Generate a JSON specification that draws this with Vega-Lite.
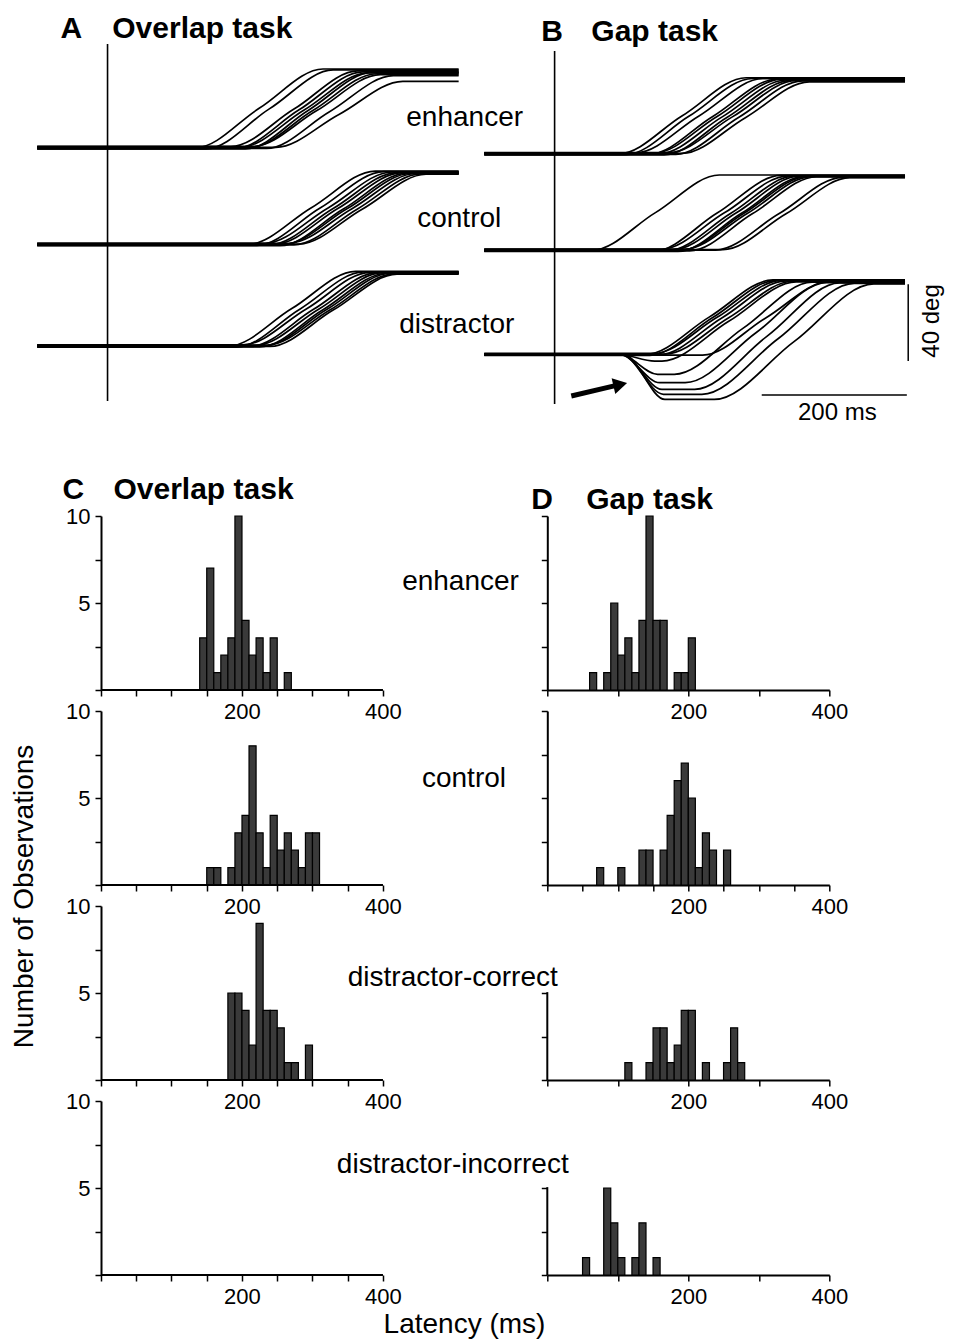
{
"$schema": "https://vega.github.io/schema/vega-lite/v6.json",
"background": "white",
"padding": {"left": 11, "top": 13, "right": 5, "bottom": 0},
"config": {
 "view": {"stroke": null},
 "axis": {"domainColor": "#000", "domainWidth": 2, "tickColor": "#000", "tickWidth": 1.5, "tickSize": 6, "labelColor": "#000", "labelFont": "Liberation Sans", "labelFontSize": 22, "labelPadding": 5, "grid": false, "labelFlush": false, "labelOverlap": false},
 "text": {"font": "Liberation Sans", "color": "#000"}
},
"datasets": {
 "trA": [
  {"k":"e1","t":-97,"y":138.6},{"k":"e1","t":122,"y":138.6},{"k":"e1","t":209,"y":159.3},{"k":"e1","t":297,"y":180},{"k":"e1","t":484,"y":180},
  {"k":"e2","t":-97,"y":138.0},{"k":"e2","t":136,"y":138.0},{"k":"e2","t":223,"y":159},{"k":"e2","t":311,"y":179.5},{"k":"e2","t":484,"y":179.5},
  {"k":"e3","t":-97,"y":139.2},{"k":"e3","t":170,"y":139.2},{"k":"e3","t":257,"y":158.9},{"k":"e3","t":345,"y":179},{"k":"e3","t":484,"y":179},
  {"k":"e4","t":-97,"y":138.3},{"k":"e4","t":177,"y":138.3},{"k":"e4","t":264,"y":158.5},{"k":"e4","t":352,"y":178.5},{"k":"e4","t":484,"y":178.5},
  {"k":"e5","t":-97,"y":138.9},{"k":"e5","t":184,"y":138.9},{"k":"e5","t":271,"y":158.4},{"k":"e5","t":359,"y":178},{"k":"e5","t":484,"y":178},
  {"k":"e6","t":-97,"y":137.9},{"k":"e6","t":190,"y":137.9},{"k":"e6","t":277,"y":158.3},{"k":"e6","t":365,"y":178.2},{"k":"e6","t":484,"y":178.2},
  {"k":"e7","t":-97,"y":138.6},{"k":"e7","t":196,"y":138.6},{"k":"e7","t":283,"y":158.1},{"k":"e7","t":371,"y":177.5},{"k":"e7","t":484,"y":177.5},
  {"k":"e8","t":-97,"y":139.3},{"k":"e8","t":201,"y":139.3},{"k":"e8","t":288,"y":158},{"k":"e8","t":376,"y":177},{"k":"e8","t":484,"y":177},
  {"k":"e9","t":-97,"y":138.2},{"k":"e9","t":219,"y":138.2},{"k":"e9","t":306,"y":157.5},{"k":"e9","t":394,"y":176.5},{"k":"e9","t":484,"y":176.5},
  {"k":"e10","t":-97,"y":138.8},{"k":"e10","t":232,"y":138.8},{"k":"e10","t":319,"y":156.1},{"k":"e10","t":407,"y":173.5},{"k":"e10","t":484,"y":173.5},
  {"k":"c1","t":-97,"y":87.7},{"k":"c1","t":194,"y":87.7},{"k":"c1","t":281,"y":107},{"k":"c1","t":369,"y":126.3},{"k":"c1","t":484,"y":126.3},
  {"k":"c2","t":-97,"y":87.2},{"k":"c2","t":206,"y":87.2},{"k":"c2","t":293,"y":106.8},{"k":"c2","t":381,"y":126},{"k":"c2","t":484,"y":126},
  {"k":"c3","t":-97,"y":88.2},{"k":"c3","t":217,"y":88.2},{"k":"c3","t":304,"y":106.9},{"k":"c3","t":392,"y":125.8},{"k":"c3","t":484,"y":125.8},
  {"k":"c4","t":-97,"y":87.5},{"k":"c4","t":224,"y":87.5},{"k":"c4","t":311,"y":106.6},{"k":"c4","t":399,"y":125.5},{"k":"c4","t":484,"y":125.5},
  {"k":"c5","t":-97,"y":87.9},{"k":"c5","t":231,"y":87.9},{"k":"c5","t":318,"y":106.7},{"k":"c5","t":406,"y":125.5},{"k":"c5","t":484,"y":125.5},
  {"k":"c6","t":-97,"y":87.0},{"k":"c6","t":238,"y":87.0},{"k":"c6","t":325,"y":106.3},{"k":"c6","t":413,"y":125.2},{"k":"c6","t":484,"y":125.2},
  {"k":"c7","t":-97,"y":87.7},{"k":"c7","t":243,"y":87.7},{"k":"c7","t":330,"y":106.4},{"k":"c7","t":418,"y":125},{"k":"c7","t":484,"y":125},
  {"k":"c8","t":-97,"y":88.3},{"k":"c8","t":250,"y":88.3},{"k":"c8","t":337,"y":106.5},{"k":"c8","t":425,"y":125},{"k":"c8","t":484,"y":125},
  {"k":"c9","t":-97,"y":87.4},{"k":"c9","t":257,"y":87.4},{"k":"c9","t":344,"y":106.2},{"k":"c9","t":432,"y":124.8},{"k":"c9","t":484,"y":124.8},
  {"k":"c10","t":-97,"y":87.9},{"k":"c10","t":264,"y":87.9},{"k":"c10","t":351,"y":106.2},{"k":"c10","t":439,"y":124.6},{"k":"c10","t":484,"y":124.6},
  {"k":"d1","t":-97,"y":34.2},{"k":"d1","t":167,"y":34.2},{"k":"d1","t":254,"y":53.9},{"k":"d1","t":342,"y":73.5},{"k":"d1","t":484,"y":73.5},
  {"k":"d2","t":-97,"y":33.6},{"k":"d2","t":178,"y":33.6},{"k":"d2","t":265,"y":53.6},{"k":"d2","t":353,"y":73.2},{"k":"d2","t":484,"y":73.2},
  {"k":"d3","t":-97,"y":34.8},{"k":"d3","t":187,"y":34.8},{"k":"d3","t":274,"y":53.7},{"k":"d3","t":362,"y":73},{"k":"d3","t":484,"y":73},
  {"k":"d4","t":-97,"y":34.0},{"k":"d4","t":197,"y":34.0},{"k":"d4","t":284,"y":53.5},{"k":"d4","t":372,"y":72.8},{"k":"d4","t":484,"y":72.8},
  {"k":"d5","t":-97,"y":34.5},{"k":"d5","t":204,"y":34.5},{"k":"d5","t":291,"y":53.6},{"k":"d5","t":379,"y":72.8},{"k":"d5","t":484,"y":72.8},
  {"k":"d6","t":-97,"y":33.7},{"k":"d6","t":210,"y":33.7},{"k":"d6","t":297,"y":53.3},{"k":"d6","t":385,"y":72.5},{"k":"d6","t":484,"y":72.5},
  {"k":"d7","t":-97,"y":34.2},{"k":"d7","t":215,"y":34.2},{"k":"d7","t":302,"y":53.4},{"k":"d7","t":390,"y":72.5},{"k":"d7","t":484,"y":72.5},
  {"k":"d8","t":-97,"y":34.7},{"k":"d8","t":220,"y":34.7},{"k":"d8","t":307,"y":53.3},{"k":"d8","t":395,"y":72.2},{"k":"d8","t":484,"y":72.2},
  {"k":"d9","t":-97,"y":34.0},{"k":"d9","t":224,"y":34.0},{"k":"d9","t":311,"y":53.1},{"k":"d9","t":399,"y":72},{"k":"d9","t":484,"y":72}
 ],
 "trB": [
  {"k":"e1","t":-97,"y":135.4},{"k":"e1","t":89,"y":135.4},{"k":"e1","t":176,"y":155.4},{"k":"e1","t":264,"y":175.4},{"k":"e1","t":483,"y":175.4},
  {"k":"e2","t":-97,"y":134.9},{"k":"e2","t":98,"y":134.9},{"k":"e2","t":185,"y":155.1},{"k":"e2","t":273,"y":175},{"k":"e2","t":483,"y":175},
  {"k":"e3","t":-97,"y":135.9},{"k":"e3","t":112,"y":135.9},{"k":"e3","t":199,"y":155.3},{"k":"e3","t":287,"y":175},{"k":"e3","t":483,"y":175},
  {"k":"e4","t":-97,"y":135.2},{"k":"e4","t":131,"y":135.2},{"k":"e4","t":218,"y":155},{"k":"e4","t":306,"y":174.6},{"k":"e4","t":483,"y":174.6},
  {"k":"e5","t":-97,"y":135.7},{"k":"e5","t":137,"y":135.7},{"k":"e5","t":224,"y":155},{"k":"e5","t":312,"y":174.5},{"k":"e5","t":483,"y":174.5},
  {"k":"e6","t":-97,"y":135.4},{"k":"e6","t":144,"y":135.4},{"k":"e6","t":231,"y":154.8},{"k":"e6","t":319,"y":174.2},{"k":"e6","t":483,"y":174.2},
  {"k":"e7","t":-97,"y":134.8},{"k":"e7","t":151,"y":134.8},{"k":"e7","t":238,"y":154.6},{"k":"e7","t":326,"y":174},{"k":"e7","t":483,"y":174},
  {"k":"e8","t":-97,"y":136.0},{"k":"e8","t":158,"y":136.0},{"k":"e8","t":245,"y":154.8},{"k":"e8","t":333,"y":174},{"k":"e8","t":483,"y":174},
  {"k":"e9","t":-97,"y":135.1},{"k":"e9","t":167,"y":135.1},{"k":"e9","t":254,"y":154.6},{"k":"e9","t":342,"y":173.8},{"k":"e9","t":483,"y":173.8},
  {"k":"e10","t":-97,"y":135.6},{"k":"e10","t":176,"y":135.6},{"k":"e10","t":263,"y":154.4},{"k":"e10","t":351,"y":173.2},{"k":"e10","t":483,"y":173.2},
  {"k":"c1","t":-97,"y":84.6},{"k":"c1","t":52,"y":84.6},{"k":"c1","t":139,"y":104.4},{"k":"c1","t":227,"y":124.2},{"k":"c1","t":483,"y":124.2},
  {"k":"c2","t":-97,"y":84.1},{"k":"c2","t":137,"y":84.1},{"k":"c2","t":224,"y":104.2},{"k":"c2","t":312,"y":124},{"k":"c2","t":483,"y":124},
  {"k":"c3","t":-97,"y":85.1},{"k":"c3","t":147,"y":85.1},{"k":"c3","t":234,"y":104.3},{"k":"c3","t":322,"y":123.8},{"k":"c3","t":483,"y":123.8},
  {"k":"c4","t":-97,"y":84.4},{"k":"c4","t":156,"y":84.4},{"k":"c4","t":243,"y":104.1},{"k":"c4","t":331,"y":123.7},{"k":"c4","t":483,"y":123.7},
  {"k":"c5","t":-97,"y":84.8},{"k":"c5","t":163,"y":84.8},{"k":"c5","t":250,"y":104.2},{"k":"c5","t":338,"y":123.7},{"k":"c5","t":483,"y":123.7},
  {"k":"c6","t":-97,"y":84.0},{"k":"c6","t":170,"y":84.0},{"k":"c6","t":257,"y":103.9},{"k":"c6","t":345,"y":123.5},{"k":"c6","t":483,"y":123.5},
  {"k":"c7","t":-97,"y":84.6},{"k":"c7","t":174,"y":84.6},{"k":"c7","t":261,"y":104.1},{"k":"c7","t":349,"y":123.5},{"k":"c7","t":483,"y":123.5},
  {"k":"c8","t":-97,"y":85.2},{"k":"c8","t":179,"y":85.2},{"k":"c8","t":266,"y":104.1},{"k":"c8","t":354,"y":123.4},{"k":"c8","t":483,"y":123.4},
  {"k":"c9","t":-97,"y":84.3},{"k":"c9","t":186,"y":84.3},{"k":"c9","t":273,"y":103.9},{"k":"c9","t":361,"y":123.3},{"k":"c9","t":483,"y":123.3},
  {"k":"c10","t":-97,"y":84.7},{"k":"c10","t":222,"y":84.7},{"k":"c10","t":309,"y":103.8},{"k":"c10","t":397,"y":123},{"k":"c10","t":483,"y":123},
  {"k":"c11","t":-97,"y":84.9},{"k":"c11","t":232,"y":84.9},{"k":"c11","t":319,"y":103.8},{"k":"c11","t":407,"y":122.8},{"k":"c11","t":483,"y":122.8},
  {"k":"d1","t":-97,"y":29.8},{"k":"d1","t":126,"y":29.8},{"k":"d1","t":213,"y":49.4},{"k":"d1","t":301,"y":69},{"k":"d1","t":483,"y":69},
  {"k":"d2","t":-97,"y":29.3},{"k":"d2","t":131,"y":29.3},{"k":"d2","t":218,"y":49.2},{"k":"d2","t":306,"y":68.8},{"k":"d2","t":483,"y":68.8},
  {"k":"d3","t":-97,"y":30.3},{"k":"d3","t":137,"y":30.3},{"k":"d3","t":224,"y":49.3},{"k":"d3","t":312,"y":68.6},{"k":"d3","t":483,"y":68.6},
  {"k":"d4","t":-97,"y":29.6},{"k":"d4","t":144,"y":29.6},{"k":"d4","t":231,"y":49.1},{"k":"d4","t":319,"y":68.5},{"k":"d4","t":483,"y":68.5},
  {"k":"d5","t":-97,"y":30.0},{"k":"d5","t":153,"y":30.0},{"k":"d5","t":240,"y":49.1},{"k":"d5","t":328,"y":68.3},{"k":"d5","t":483,"y":68.3},
  {"k":"d6","t":-97,"y":29.4},{"k":"d6","t":204,"y":29.4},{"k":"d6","t":291,"y":49},{"k":"d6","t":379,"y":68.2},{"k":"d6","t":483,"y":68.2},
  {"k":"d7","t":-97,"y":29.8},{"k":"d7","t":88,"y":29.8},{"k":"d7","t":138,"y":26.3},{"k":"d7","t":148,"y":26.3},{"k":"d7","t":240,"y":47.2},{"k":"d7","t":333,"y":68},{"k":"d7","t":483,"y":68},
  {"k":"d8","t":-97,"y":29.8},{"k":"d8","t":90,"y":29.8},{"k":"d8","t":142,"y":19.3},{"k":"d8","t":165,"y":19.3},{"k":"d8","t":260,"y":43.6},{"k":"d8","t":355,"y":67.8},{"k":"d8","t":483,"y":67.8},
  {"k":"d9","t":-97,"y":29.7},{"k":"d9","t":90,"y":29.7},{"k":"d9","t":145,"y":14.9},{"k":"d9","t":180,"y":14.9},{"k":"d9","t":278,"y":41.3},{"k":"d9","t":375,"y":67.6},{"k":"d9","t":483,"y":67.6},
  {"k":"d10","t":-97,"y":29.9},{"k":"d10","t":92,"y":29.9},{"k":"d10","t":148,"y":11.4},{"k":"d10","t":193,"y":11.4},{"k":"d10","t":293,"y":39.4},{"k":"d10","t":393,"y":67.4},{"k":"d10","t":483,"y":67.4},
  {"k":"d11","t":-97,"y":29.8},{"k":"d11","t":92,"y":29.8},{"k":"d11","t":150,"y":8.8},{"k":"d11","t":203,"y":8.8},{"k":"d11","t":308,"y":38},{"k":"d11","t":413,"y":67.2},{"k":"d11","t":483,"y":67.2},
  {"k":"d12","t":-97,"y":29.8},{"k":"d12","t":95,"y":29.8},{"k":"d12","t":152,"y":6.1},{"k":"d12","t":220,"y":6.1},{"k":"d12","t":330,"y":36.5},{"k":"d12","t":440,"y":66.9},{"k":"d12","t":483,"y":66.9}
 ],
 "hist": [
  {"p":"C1","lo":140,"hi":150,"n":3},{"p":"C1","lo":150,"hi":160,"n":7},{"p":"C1","lo":160,"hi":170,"n":1},{"p":"C1","lo":170,"hi":180,"n":2},{"p":"C1","lo":180,"hi":190,"n":3},{"p":"C1","lo":190,"hi":200,"n":10},{"p":"C1","lo":200,"hi":210,"n":4},{"p":"C1","lo":210,"hi":220,"n":2},{"p":"C1","lo":220,"hi":230,"n":3},{"p":"C1","lo":230,"hi":240,"n":1},{"p":"C1","lo":240,"hi":250,"n":3},{"p":"C1","lo":260,"hi":270,"n":1},
  {"p":"D1","lo":60,"hi":70,"n":1},{"p":"D1","lo":80,"hi":90,"n":1},{"p":"D1","lo":90,"hi":100,"n":5},{"p":"D1","lo":100,"hi":110,"n":2},{"p":"D1","lo":110,"hi":120,"n":3},{"p":"D1","lo":120,"hi":130,"n":1},{"p":"D1","lo":130,"hi":140,"n":4},{"p":"D1","lo":140,"hi":150,"n":10},{"p":"D1","lo":150,"hi":160,"n":4},{"p":"D1","lo":160,"hi":170,"n":4},{"p":"D1","lo":180,"hi":190,"n":1},{"p":"D1","lo":190,"hi":200,"n":1},{"p":"D1","lo":200,"hi":210,"n":3},
  {"p":"C2","lo":150,"hi":160,"n":1},{"p":"C2","lo":160,"hi":170,"n":1},{"p":"C2","lo":180,"hi":190,"n":1},{"p":"C2","lo":190,"hi":200,"n":3},{"p":"C2","lo":200,"hi":210,"n":4},{"p":"C2","lo":210,"hi":220,"n":8},{"p":"C2","lo":220,"hi":230,"n":3},{"p":"C2","lo":230,"hi":240,"n":1},{"p":"C2","lo":240,"hi":250,"n":4},{"p":"C2","lo":250,"hi":260,"n":2},{"p":"C2","lo":260,"hi":270,"n":3},{"p":"C2","lo":270,"hi":280,"n":2},{"p":"C2","lo":280,"hi":290,"n":1},{"p":"C2","lo":290,"hi":300,"n":3},{"p":"C2","lo":300,"hi":310,"n":3},
  {"p":"D2","lo":70,"hi":80,"n":1},{"p":"D2","lo":100,"hi":110,"n":1},{"p":"D2","lo":130,"hi":140,"n":2},{"p":"D2","lo":140,"hi":150,"n":2},{"p":"D2","lo":160,"hi":170,"n":2},{"p":"D2","lo":170,"hi":180,"n":4},{"p":"D2","lo":180,"hi":190,"n":6},{"p":"D2","lo":190,"hi":200,"n":7},{"p":"D2","lo":200,"hi":210,"n":5},{"p":"D2","lo":210,"hi":220,"n":1},{"p":"D2","lo":220,"hi":230,"n":3},{"p":"D2","lo":230,"hi":240,"n":2},{"p":"D2","lo":250,"hi":260,"n":2},
  {"p":"C3","lo":180,"hi":190,"n":5},{"p":"C3","lo":190,"hi":200,"n":5},{"p":"C3","lo":200,"hi":210,"n":4},{"p":"C3","lo":210,"hi":220,"n":2},{"p":"C3","lo":220,"hi":230,"n":9},{"p":"C3","lo":230,"hi":240,"n":4},{"p":"C3","lo":240,"hi":250,"n":4},{"p":"C3","lo":250,"hi":260,"n":3},{"p":"C3","lo":260,"hi":270,"n":1},{"p":"C3","lo":270,"hi":280,"n":1},{"p":"C3","lo":290,"hi":300,"n":2},
  {"p":"D3","lo":110,"hi":120,"n":1},{"p":"D3","lo":140,"hi":150,"n":1},{"p":"D3","lo":150,"hi":160,"n":3},{"p":"D3","lo":160,"hi":170,"n":3},{"p":"D3","lo":170,"hi":180,"n":1},{"p":"D3","lo":180,"hi":190,"n":2},{"p":"D3","lo":190,"hi":200,"n":4},{"p":"D3","lo":200,"hi":210,"n":4},{"p":"D3","lo":220,"hi":230,"n":1},{"p":"D3","lo":250,"hi":260,"n":1},{"p":"D3","lo":260,"hi":270,"n":3},{"p":"D3","lo":270,"hi":280,"n":1},
  {"p":"D4","lo":50,"hi":60,"n":1},{"p":"D4","lo":80,"hi":90,"n":5},{"p":"D4","lo":90,"hi":100,"n":3},{"p":"D4","lo":100,"hi":110,"n":1},{"p":"D4","lo":120,"hi":130,"n":1},{"p":"D4","lo":130,"hi":140,"n":3},{"p":"D4","lo":150,"hi":160,"n":1}
 ]
},
"bounds": "flush",
"align": "none",
"columns": 2,
"spacing": {"row": 21, "column": 18.3},
"concat": [
 {
  "width": 428, "height": 463.5,
  "layer": [
   {"data": {"name": "trA"}, "mark": {"type": "line", "interpolate": "monotone", "color": "#000", "strokeWidth": 1.7},
    "encoding": {"x": {"field": "t", "type": "quantitative", "scale": {"domain": [-100, 490], "nice": false, "zero": false}, "axis": null},
                 "y": {"field": "y", "type": "quantitative", "scale": {"domain": [-43.95, 200], "nice": false, "zero": false}, "axis": null},
                 "detail": {"field": "k", "type": "nominal"}}},
   {"data": {"values": [{}]}, "mark": {"type": "rule", "color": "#000", "strokeWidth": 1.6},
    "encoding": {"x": {"datum": 0}, "y": {"datum": 5.3}, "y2": {"datum": 193.2}}},
   {"data": {"values": [{}]}, "mark": {"type": "text", "fontSize": 30, "fontWeight": "bold", "align": "left", "baseline": "alphabetic"},
    "encoding": {"x": {"datum": -64.8}, "y": {"datum": 196.5}, "text": {"value": "A"}}},
   {"data": {"values": [{}]}, "mark": {"type": "text", "fontSize": 30, "fontWeight": "bold", "align": "left", "baseline": "alphabetic"},
    "encoding": {"x": {"datum": 6.5}, "y": {"datum": 196.5}, "text": {"value": "Overlap task"}}},
   {"data": {"values": [{}]}, "mark": {"type": "text", "fontSize": 28, "align": "center", "baseline": "alphabetic"},
    "encoding": {"x": {"datum": 492.3}, "y": {"datum": 150}, "text": {"value": "enhancer"}}},
   {"data": {"values": [{}]}, "mark": {"type": "text", "fontSize": 28, "align": "center", "baseline": "alphabetic"},
    "encoding": {"x": {"datum": 484.8}, "y": {"datum": 96.8}, "text": {"value": "control"}}},
   {"data": {"values": [{}]}, "mark": {"type": "text", "fontSize": 28, "align": "center", "baseline": "alphabetic"},
    "encoding": {"x": {"datum": 481.4}, "y": {"datum": 41}, "text": {"value": "distractor"}}}
  ]
 },
 {
  "width": 362.8, "height": 463.5,
  "layer": [
   {"data": {"name": "trB"}, "mark": {"type": "line", "interpolate": "monotone", "color": "#000", "strokeWidth": 1.7},
    "encoding": {"x": {"field": "t", "type": "quantitative", "scale": {"domain": [-10.07, 490], "nice": false, "zero": false}, "axis": null},
                 "y": {"field": "y", "type": "quantitative", "scale": {"domain": [-43.95, 200], "nice": false, "zero": false}, "axis": null},
                 "detail": {"field": "k", "type": "nominal"}}},
   {"data": {"values": [{}]}, "mark": {"type": "rule", "color": "#000", "strokeWidth": 1.6},
    "encoding": {"x": {"datum": 0}, "y": {"datum": 3.7}, "y2": {"datum": 189.5}}},
   {"data": {"values": [{}]}, "mark": {"type": "rule", "color": "#000", "strokeWidth": 1.5},
    "encoding": {"x": {"datum": 487.4}, "y": {"datum": 26.3}, "y2": {"datum": 66.7}}},
   {"data": {"values": [{}]}, "mark": {"type": "rule", "color": "#000", "strokeWidth": 1.5},
    "encoding": {"x": {"datum": 285.5}, "x2": {"datum": 485.5}, "y": {"datum": 8.4}}},
   {"data": {"values": [{}]}, "mark": {"type": "rule", "color": "#000", "strokeWidth": 5},
    "encoding": {"x": {"datum": 23}, "y": {"datum": 7.9}, "x2": {"datum": 82.3}, "y2": {"datum": 13.2}}},
   {"data": {"values": [{}]}, "mark": {"type": "point", "shape": "triangle-right", "filled": true, "color": "#000", "opacity": 1, "size": 260, "angle": -13},
    "encoding": {"x": {"datum": 90.5}, "y": {"datum": 13.9}}},
   {"data": {"values": [{}]}, "mark": {"type": "text", "fontSize": 30, "fontWeight": "bold", "align": "left", "baseline": "alphabetic"},
    "encoding": {"x": {"datum": -18.3}, "y": {"datum": 194.7}, "text": {"value": "B"}}},
   {"data": {"values": [{}]}, "mark": {"type": "text", "fontSize": 30, "fontWeight": "bold", "align": "left", "baseline": "alphabetic"},
    "encoding": {"x": {"datum": 50.6}, "y": {"datum": 194.7}, "text": {"value": "Gap task"}}},
   {"data": {"values": [{}]}, "mark": {"type": "text", "fontSize": 24, "align": "center", "baseline": "middle", "angle": 270},
    "encoding": {"x": {"datum": 519.6}, "y": {"datum": 47.4}, "text": {"value": "40 deg"}}},
   {"data": {"values": [{}]}, "mark": {"type": "text", "fontSize": 24, "align": "center", "baseline": "middle"},
    "encoding": {"x": {"datum": 389.7}, "y": {"datum": -1.05}, "text": {"value": "200 ms"}}}
  ]
 },
 {"width": 493.2, "height": 174, "layer": [
  {"data": {"name": "hist"}, "transform": [{"filter": "datum.p == 'C1'"}],
   "mark": {"type": "rect", "fill": "#3a3a3a", "stroke": "#000", "strokeWidth": 1.2},
   "encoding": {
    "x": {"field": "lo", "type": "quantitative", "scale": {"domain": [-93.6, 606], "nice": false, "zero": false}, "axis": {"title": null, "domain": false, "values": [0, 50, 100, 150, 200, 250, 300, 350, 400], "labelExpr": "datum.value == 200 || datum.value == 400 ? datum.label : ''"}},
    "x2": {"field": "hi"},
    "y": {"field": "n", "type": "quantitative", "scale": {"domain": [0, 10], "nice": false}, "axis": {"title": null, "offset": -66, "values": [0, 2.5, 5, 7.5, 10], "labelExpr": "datum.value == 5 || datum.value == 10 ? datum.label : ''"}},
    "y2": {"datum": 0}}},
  {"data": {"values": [{}]}, "mark": {"type": "rule", "color": "#000", "strokeWidth": 2},
   "encoding": {"x": {"datum": 0}, "x2": {"datum": 400}, "y": {"datum": 0}}},
  {"data": {"values": [{}]}, "mark": {"type": "text", "fontSize": 30, "fontWeight": "bold", "align": "left", "baseline": "alphabetic"},
   "encoding": {"x": {"datum": -54.6}, "y": {"datum": 11.0}, "text": {"value": "C"}}},
  {"data": {"values": [{}]}, "mark": {"type": "text", "fontSize": 30, "fontWeight": "bold", "align": "left", "baseline": "alphabetic"},
   "encoding": {"x": {"datum": 17.7}, "y": {"datum": 11.0}, "text": {"value": "Overlap task"}}},
  {"data": {"values": [{}]}, "mark": {"type": "text", "fontSize": 28, "align": "center", "baseline": "alphabetic"},
   "encoding": {"x": {"datum": 510}, "y": {"datum": 5.72}, "text": {"value": "enhancer"}}}
 ]},
 {"width": 282, "height": 174, "layer": [
  {"data": {"name": "hist"}, "transform": [{"filter": "datum.p == 'D1'"}],
   "mark": {"type": "rect", "fill": "#3a3a3a", "stroke": "#000", "strokeWidth": 1.2},
   "encoding": {
    "x": {"field": "lo", "type": "quantitative", "scale": {"domain": [0, 400], "nice": false, "zero": false}, "axis": {"title": null, "values": [0, 50, 100, 150, 200, 250, 300, 350, 400], "labelExpr": "datum.value == 200 || datum.value == 400 ? datum.label : ''"}},
    "x2": {"field": "hi"},
    "y": {"field": "n", "type": "quantitative", "scale": {"domain": [0, 10], "nice": false}, "axis": {"title": null, "values": [0, 2.5, 5, 7.5, 10], "labels": false}},
    "y2": {"datum": 0}}},
  {"data": {"values": [{}]}, "mark": {"type": "text", "fontSize": 30, "fontWeight": "bold", "align": "left", "baseline": "alphabetic"},
   "encoding": {"x": {"datum": -22.7}, "y": {"datum": 10.43}, "text": {"value": "D"}}},
  {"data": {"values": [{}]}, "mark": {"type": "text", "fontSize": 30, "fontWeight": "bold", "align": "left", "baseline": "alphabetic"},
   "encoding": {"x": {"datum": 55.3}, "y": {"datum": 10.43}, "text": {"value": "Gap task"}}}
 ]},
 {"width": 493.2, "height": 174, "layer": [
  {"data": {"name": "hist"}, "transform": [{"filter": "datum.p == 'C2'"}],
   "mark": {"type": "rect", "fill": "#3a3a3a", "stroke": "#000", "strokeWidth": 1.2},
   "encoding": {
    "x": {"field": "lo", "type": "quantitative", "scale": {"domain": [-93.6, 606], "nice": false, "zero": false}, "axis": {"title": null, "domain": false, "values": [0, 50, 100, 150, 200, 250, 300, 350, 400], "labelExpr": "datum.value == 200 || datum.value == 400 ? datum.label : ''"}},
    "x2": {"field": "hi"},
    "y": {"field": "n", "type": "quantitative", "scale": {"domain": [0, 10], "nice": false}, "axis": {"title": null, "offset": -66, "values": [0, 2.5, 5, 7.5, 10], "labelExpr": "datum.value == 5 || datum.value == 10 ? datum.label : ''"}},
    "y2": {"datum": 0}}},
  {"data": {"values": [{}]}, "mark": {"type": "rule", "color": "#000", "strokeWidth": 2},
   "encoding": {"x": {"datum": 0}, "x2": {"datum": 400}, "y": {"datum": 0}}},
  {"data": {"values": [{}]}, "mark": {"type": "text", "fontSize": 28, "align": "center", "baseline": "alphabetic"},
   "encoding": {"x": {"datum": 514.9}, "y": {"datum": 5.66}, "text": {"value": "control"}}}
 ]},
 {"width": 282, "height": 174, "layer": [
  {"data": {"name": "hist"}, "transform": [{"filter": "datum.p == 'D2'"}],
   "mark": {"type": "rect", "fill": "#3a3a3a", "stroke": "#000", "strokeWidth": 1.2},
   "encoding": {
    "x": {"field": "lo", "type": "quantitative", "scale": {"domain": [0, 400], "nice": false, "zero": false}, "axis": {"title": null, "values": [0, 50, 100, 150, 200, 250, 300, 350, 400], "labelExpr": "datum.value == 200 || datum.value == 400 ? datum.label : ''"}},
    "x2": {"field": "hi"},
    "y": {"field": "n", "type": "quantitative", "scale": {"domain": [0, 10], "nice": false}, "axis": {"title": null, "values": [0, 2.5, 5, 7.5, 10], "labels": false}},
    "y2": {"datum": 0}}}
 ]},
 {"width": 493.2, "height": 174, "layer": [
  {"data": {"name": "hist"}, "transform": [{"filter": "datum.p == 'C3'"}],
   "mark": {"type": "rect", "fill": "#3a3a3a", "stroke": "#000", "strokeWidth": 1.2},
   "encoding": {
    "x": {"field": "lo", "type": "quantitative", "scale": {"domain": [-93.6, 606], "nice": false, "zero": false}, "axis": {"title": null, "domain": false, "values": [0, 50, 100, 150, 200, 250, 300, 350, 400], "labelExpr": "datum.value == 200 || datum.value == 400 ? datum.label : ''"}},
    "x2": {"field": "hi"},
    "y": {"field": "n", "type": "quantitative", "scale": {"domain": [0, 10], "nice": false}, "axis": {"title": null, "offset": -66, "values": [0, 2.5, 5, 7.5, 10], "labelExpr": "datum.value == 5 || datum.value == 10 ? datum.label : ''"}},
    "y2": {"datum": 0}}},
  {"data": {"values": [{}]}, "mark": {"type": "rule", "color": "#000", "strokeWidth": 2},
   "encoding": {"x": {"datum": 0}, "x2": {"datum": 400}, "y": {"datum": 0}}},
  {"data": {"values": [{}]}, "mark": {"type": "text", "fontSize": 28, "align": "center", "baseline": "alphabetic"},
   "encoding": {"x": {"datum": 499}, "y": {"datum": 5.43}, "text": {"value": "distractor-correct"}}},
  {"data": {"values": [{}]}, "mark": {"type": "text", "fontSize": 28, "align": "center", "baseline": "middle", "angle": 270},
   "encoding": {"x": {"datum": -107.1}, "y": {"datum": 10.55}, "text": {"value": "Number of Observations"}}}
 ]},
 {"width": 282, "height": 174, "layer": [
  {"data": {"name": "hist"}, "transform": [{"filter": "datum.p == 'D3'"}],
   "mark": {"type": "rect", "fill": "#3a3a3a", "stroke": "#000", "strokeWidth": 1.2},
   "encoding": {
    "x": {"field": "lo", "type": "quantitative", "scale": {"domain": [0, 400], "nice": false, "zero": false}, "axis": {"title": null, "values": [0, 50, 100, 150, 200, 250, 300, 350, 400], "labelExpr": "datum.value == 200 || datum.value == 400 ? datum.label : ''"}},
    "x2": {"field": "hi"},
    "y": {"field": "n", "type": "quantitative", "scale": {"domain": [0, 10], "nice": false}, "axis": {"title": null, "values": [0, 2.5, 5], "labels": false, "domain": false}},
    "y2": {"datum": 0}}},
  {"data": {"values": [{}]}, "mark": {"type": "rule", "color": "#000", "strokeWidth": 2},
   "encoding": {"x": {"datum": 0}, "y": {"datum": 0}, "y2": {"datum": 5.05}}}
 ]},
 {"width": 493.2, "height": 174, "layer": [
  {"data": {"name": "hist"}, "transform": [{"filter": "datum.p == 'C4'"}],
   "mark": {"type": "rect", "fill": "#3a3a3a", "stroke": "#000", "strokeWidth": 1.2},
   "encoding": {
    "x": {"field": "lo", "type": "quantitative", "scale": {"domain": [-93.6, 606], "nice": false, "zero": false}, "axis": {"title": null, "domain": false, "values": [0, 50, 100, 150, 200, 250, 300, 350, 400], "labelExpr": "datum.value == 200 || datum.value == 400 ? datum.label : ''"}},
    "x2": {"field": "hi"},
    "y": {"field": "n", "type": "quantitative", "scale": {"domain": [0, 10], "nice": false}, "axis": {"title": null, "offset": -66, "values": [0, 2.5, 5, 7.5, 10], "labelExpr": "datum.value == 5 || datum.value == 10 ? datum.label : ''"}},
    "y2": {"datum": 0}}},
  {"data": {"values": [{}]}, "mark": {"type": "rule", "color": "#000", "strokeWidth": 2},
   "encoding": {"x": {"datum": 0}, "x2": {"datum": 400}, "y": {"datum": 0}}},
  {"data": {"values": [{}]}, "mark": {"type": "text", "fontSize": 28, "align": "center", "baseline": "alphabetic"},
   "encoding": {"x": {"datum": 499}, "y": {"datum": 5.89}, "text": {"value": "distractor-incorrect"}}},
  {"data": {"values": [{}]}, "mark": {"type": "text", "fontSize": 28, "align": "center", "baseline": "alphabetic"},
   "encoding": {"x": {"datum": 515.6}, "y": {"datum": -3.36}, "text": {"value": "Latency (ms)"}}}
 ]},
 {"width": 282, "height": 174, "layer": [
  {"data": {"name": "hist"}, "transform": [{"filter": "datum.p == 'D4'"}],
   "mark": {"type": "rect", "fill": "#3a3a3a", "stroke": "#000", "strokeWidth": 1.2},
   "encoding": {
    "x": {"field": "lo", "type": "quantitative", "scale": {"domain": [0, 400], "nice": false, "zero": false}, "axis": {"title": null, "values": [0, 50, 100, 150, 200, 250, 300, 350, 400], "labelExpr": "datum.value == 200 || datum.value == 400 ? datum.label : ''"}},
    "x2": {"field": "hi"},
    "y": {"field": "n", "type": "quantitative", "scale": {"domain": [0, 10], "nice": false}, "axis": {"title": null, "values": [0, 2.5, 5], "labels": false, "domain": false}},
    "y2": {"datum": 0}}},
  {"data": {"values": [{}]}, "mark": {"type": "rule", "color": "#000", "strokeWidth": 2},
   "encoding": {"x": {"datum": 0}, "y": {"datum": 0}, "y2": {"datum": 5.05}}}
 ]}
]
}
